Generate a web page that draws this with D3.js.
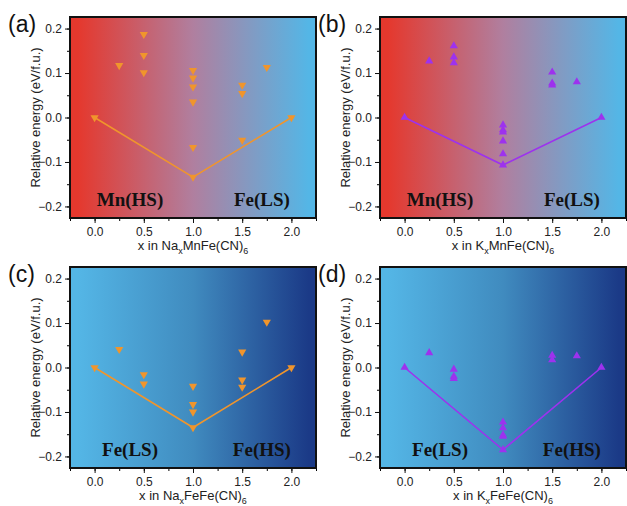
<!DOCTYPE html>
<html>
<head>
<meta charset="utf-8">
<script src="https://cdnjs.cloudflare.com/ajax/libs/d3/7.8.5/d3.min.js"></script>
<style>
	body { margin: 0; background: #fff; }
	svg { display: block; font-family: Arial, "Liberation Sans", sans-serif; }
</style>
</head>
<body>
<svg id="chart" width="627" height="506"></svg>
<script>
	// data
	var hullX = [0, 1, 2];
	var hullA = [0, -0.134, 0];
	var hullB = [0, -0.107, 0];
	var hullC = [0, -0.135, 0];
	var hullD = [0, -0.185, 0];

	var ptsA = [[0.25,0.117],[0.5,0.187],[0.5,0.140],[0.5,0.101],[1,0.106],[1,0.089],[1,0.069],[1,0.035],[1,-0.067],[1.5,0.073],[1.5,0.054],[1.5,-0.051],[1.75,0.113]];
	var ptsB = [[0.25,0.127],[0.5,0.161],[0.5,0.136],[0.5,0.123],[1,-0.017],[1,-0.028],[1,-0.033],[1,-0.053],[1,-0.082],[1.5,0.102],[1.5,0.077],[1.5,0.073],[1.75,0.080]];
	var ptsC = [[0.25,0.041],[0.5,-0.016],[0.5,-0.037],[1,-0.042],[1,-0.083],[1,-0.100],[1.5,0.035],[1.5,-0.028],[1.5,-0.044],[1.75,0.102]];
	var ptsD = [[0.25,0.033],[0.5,-0.004],[0.5,-0.020],[0.5,-0.025],[1,-0.123],[1,-0.136],[1,-0.152],[1,-0.155],[1.5,0.027],[1.5,0.017],[1.75,0.026]];

	var xTicks = [0, 0.5, 1, 1.5, 2];
	var yTicks = [-0.2, -0.1, 0, 0.1, 0.2];

	var orange = "#f0952c", purple = "#9d32ee";

	var panels = [
		{id:"a", left:70, top:17, hull:hullA, pts:ptsA, color:orange, down:true, ion:"Na", host:"MnFe(CN)", grad:["#e5382d","#b07f9f","#54b6e6"], txt:["Mn(HS)","Fe(LS)"]},
		{id:"b", left:380, top:17, hull:hullB, pts:ptsB, color:purple, down:false, ion:"K", host:"MnFe(CN)", grad:["#e5382d","#b07f9f","#54b6e6"], txt:["Mn(HS)","Fe(LS)"]},
		{id:"c", left:70, top:267, hull:hullC, pts:ptsC, color:orange, down:true, ion:"Na", host:"FeFe(CN)", grad:["#54b6e6","#408bbf","#1b3a87"], txt:["Fe(LS)","Fe(HS)"]},
		{id:"d", left:380, top:267, hull:hullD, pts:ptsD, color:purple, down:false, ion:"K", host:"FeFe(CN)", grad:["#54b6e6","#408bbf","#1b3a87"], txt:["Fe(LS)","Fe(HS)"]}
	];

	var W = 246, H = 201;
	var svg = d3.select("#chart");
	var defs = svg.append("defs");

	panels.forEach(function(p){
		var g = svg.append("g").attr("transform", "translate(" + p.left + "," + p.top + ")");
		var x = d3.scaleLinear().domain([-0.25, 2.25]).range([0, W]);
		var y = d3.scaleLinear().domain([-0.226, 0.226]).range([H, 0]);

		var lg = defs.append("linearGradient").attr("id", "grad" + p.id)
			.attr("x1", "0%").attr("x2", "100%").attr("y1", "0%").attr("y2", "0%");
		lg.append("stop").attr("offset", "3%").attr("stop-color", p.grad[0]);
		lg.append("stop").attr("offset", "50%").attr("stop-color", p.grad[1]);
		lg.append("stop").attr("offset", "97%").attr("stop-color", p.grad[2]);

		g.append("rect").attr("width", W).attr("height", H).attr("fill", "url(#grad" + p.id + ")");

		// minor + major ticks
		var xMinor = d3.range(-0.25, 2.26, 0.25);
		var yMinor = d3.range(-0.2, 0.21, 0.05);
		var xa = d3.axisBottom(x).tickValues(xMinor).tickSize(3).tickFormat("");
		var ya = d3.axisLeft(y).tickValues(yMinor).tickSize(3).tickFormat("");
		g.append("g").attr("transform", "translate(0," + H + ")").call(xa).call(function(s){ s.select(".domain").remove(); });
		g.append("g").call(ya).call(function(s){ s.select(".domain").remove(); });
		var xA = d3.axisBottom(x).tickValues(xTicks).tickSize(5).tickPadding(4).tickFormat(d3.format(".1f"));
		var yA = d3.axisLeft(y).tickValues(yTicks).tickSize(5).tickPadding(3).tickFormat(d3.format(".1f"));
		var gx = g.append("g").attr("transform", "translate(0," + H + ")").call(xA);
		var gy = g.append("g").call(yA);
		[gx, gy].forEach(function(s){
			s.select(".domain").remove();
			s.selectAll("text").attr("font-size", 12).attr("fill", "#222").attr("font-family", "Arial, 'Liberation Sans', sans-serif");
			s.selectAll("line").attr("stroke", "#111");
		});

		// hull line
		var line = d3.line().x(function(d){ return x(d[0]); }).y(function(d){ return y(d[1]); });
		var hp = hullX.map(function(v, i){ return [v, p.hull[i]]; });
		g.append("path").datum(hp).attr("d", line).attr("fill", "none").attr("stroke", p.color).attr("stroke-width", 1.6);

		var sym = d3.symbol().type(d3.symbolTriangle).size(29);
		var all = p.pts.concat(hp);
		g.selectAll(".pt").data(all).enter().append("path")
			.attr("d", sym)
			.attr("fill", p.color)
			.attr("transform", function(d){ return "translate(" + x(d[0]) + "," + y(d[1]) + ")" + (p.down ? " rotate(180)" : ""); });

		// region labels
		g.append("text").attr("x", x(0.36)).attr("y", y(-0.198)).attr("text-anchor", "middle")
			.attr("font-family", "'Liberation Serif', 'Times New Roman', serif").attr("font-weight", "bold").attr("font-size", 19).attr("fill", "#111").text(p.txt[0]);
		g.append("text").attr("x", x(1.7)).attr("y", y(-0.198)).attr("text-anchor", "middle")
			.attr("font-family", "'Liberation Serif', 'Times New Roman', serif").attr("font-weight", "bold").attr("font-size", 19).attr("fill", "#111").text(p.txt[1]);

		// frame
		g.append("rect").attr("width", W).attr("height", H).attr("fill", "none").attr("stroke", "#111").attr("stroke-width", 2);

		// axis titles
		g.append("text").attr("transform", "translate(-30," + (H / 2) + ") rotate(-90)")
			.attr("text-anchor", "middle").attr("font-size", 13).attr("fill", "#222").text("Relative energy (eV/f.u.)");
		var xt = g.append("text").attr("x", W / 2).attr("y", H + 32).attr("text-anchor", "middle").attr("font-size", 13).attr("fill", "#222");
		xt.append("tspan").text("x in " + p.ion);
		xt.append("tspan").attr("dy", 4).attr("font-size", 9).text("x");
		xt.append("tspan").attr("dy", -4).text(p.host);
		xt.append("tspan").attr("dy", 4).attr("font-size", 9).text("6");

		// panel letter
		g.append("text").attr("x", -62).attr("y", 15).attr("font-size", 23).attr("fill", "#111").text("(" + p.id + ")");
	});
</script>
</body>
</html>
